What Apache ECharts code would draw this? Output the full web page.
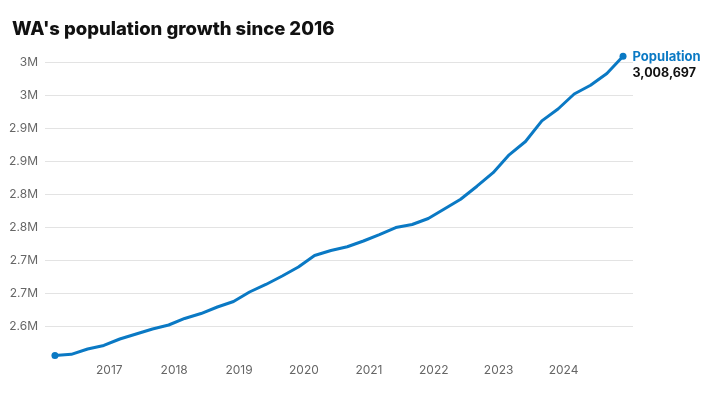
<!DOCTYPE html>
<html>
<head>
<meta charset="utf-8">
<script src="https://cdn.jsdelivr.net/npm/echarts@6/dist/echarts.min.js"></script>
<style>
html,body{margin:0;padding:0;background:#fff;}
#chart{width:720px;height:395px;}
</style>
</head>
<body>
<div id="chart"></div>
<script>
const title = "WA's population growth since 2016";
const seriesName = "Population";
// Quarter dates (plotted on the 1st of the quarter's last month)
const quarters = [
  "2016-03-01","2016-06-01","2016-09-01","2016-12-01",
  "2017-03-01","2017-06-01","2017-09-01","2017-12-01",
  "2018-03-01","2018-06-01","2018-09-01","2018-12-01",
  "2019-03-01","2019-06-01","2019-09-01","2019-12-01",
  "2020-03-01","2020-06-01","2020-09-01","2020-12-01",
  "2021-03-01","2021-06-01","2021-09-01","2021-12-01",
  "2022-03-01","2022-06-01","2022-09-01","2022-12-01",
  "2023-03-01","2023-06-01","2023-09-01","2023-12-01",
  "2024-03-01","2024-06-01","2024-09-01","2024-12-01"
];
const population = [
  2555300, 2557100, 2565200, 2570500,
  2580300, 2587900, 2595500, 2601500,
  2611400, 2618900, 2628800, 2637100,
  2651500, 2662900, 2675800, 2689400,
  2706800, 2714400, 2720100, 2728800,
  2738600, 2749200, 2753800, 2762900,
  2777300, 2792000, 2811800, 2832300,
  2859400, 2879500, 2910800, 2928800,
  2951500, 2964800, 2982600, 3008697
];
const yMin = 2550000, yMax = 3050000, yStep = 50000;

const DAY = 86400000;
const times = quarters.map(d => new Date(d + "T00:00:00Z").getTime());
const lastT = times[times.length - 1];
const data = times.map((t, i) => {
  const item = { value: [t, population[i]] };
  if (i === 0 || i === times.length - 1) {
    item.symbol = 'circle';
    item.symbolSize = 7;
  }
  if (i === times.length - 1) {
    item.label = {
      show: true,
      position: 'right',
      distance: 6,
      offset: [0, 9],
      formatter: p => '{a|' + seriesName + '}\n{b|' + p.value[1].toLocaleString('en-US') + '}',
      rich: {
        a: { fontFamily: 'Inter', fontWeight: 700, fontSize: 13, color: '#0a79c4', lineHeight: 16 },
        b: { fontFamily: 'Inter', fontWeight: 700, fontSize: 12.5, color: '#111', lineHeight: 16 }
      }
    };
  }
  return item;
});

const chart = echarts.init(document.getElementById('chart'), null, { renderer: 'canvas' });
chart.setOption({
  animation: false,
  backgroundColor: '#fff',
  title: {
    text: title,
    left: 7, top: 15,
    textStyle: { fontFamily: 'Inter', fontWeight: 800, fontSize: 18.5, color: '#111' }
  },
  grid: { left: 45, right: 87, top: 29, bottom: 36 },
  xAxis: {
    type: 'time',
    min: v => v.min - 56 * DAY,
    max: v => v.max + 56 * DAY,
    minInterval: 365 * DAY,
    maxInterval: 366 * DAY,
    axisLine: { show: false },
    axisTick: { show: false },
    splitLine: { show: false },
    axisLabel: {
      margin: 5,
      fontFamily: 'Inter', fontSize: 12, color: '#666',
      formatter: v => v > lastT ? '' : String(new Date(v).getUTCFullYear())
    }
  },
  yAxis: {
    type: 'value',
    min: yMin, max: yMax, interval: yStep,
    axisLine: { show: false },
    axisTick: { show: false },
    splitLine: { show: true, showMinLine: false, showMaxLine: false, lineStyle: { color: '#e3e3e3', width: 1 } },
    axisLabel: {
      showMinLabel: false, showMaxLabel: false,
      margin: 7,
      fontFamily: 'Inter', fontSize: 12, color: '#666',
      formatter: v => (Math.round(v / 100000) / 10) + 'M'
    }
  },
  series: [{
    name: seriesName,
    type: 'line',
    data: data,
    showSymbol: true,
    symbol: 'none',
    lineStyle: { color: '#0a79c4', width: 3 },
    itemStyle: { color: '#0a79c4' },
    clip: false
  }]
});
</script>
</body>
</html>
